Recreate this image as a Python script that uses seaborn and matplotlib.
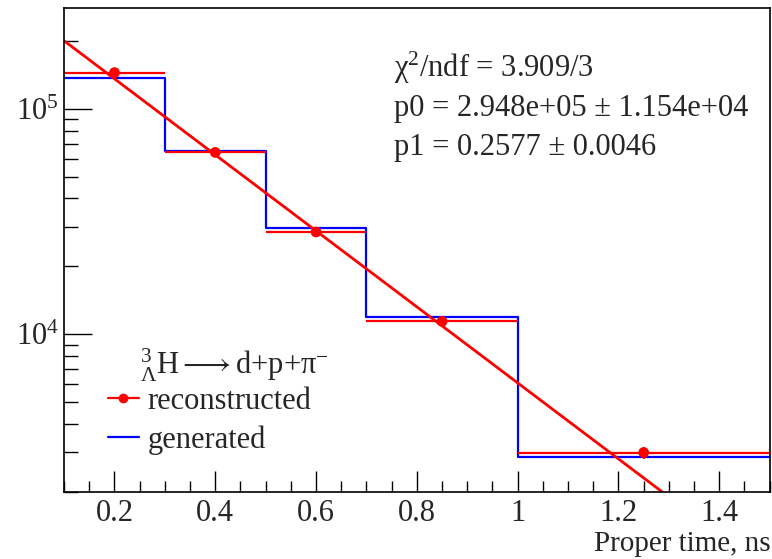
import matplotlib
matplotlib.use("Agg")
import matplotlib.pyplot as plt
import matplotlib.ticker as mticker
from matplotlib.lines import Line2D
import numpy as np
import pandas as pd
import seaborn as sns

# ---- data ----
bin_edges = [0.1, 0.3, 0.5, 0.7, 1.0, 1.5]
reco_x = [0.2, 0.4, 0.6, 0.85, 1.25]
reco_y = [1.445e5, 6.4e4, 2.84e4, 1.14e4, 2.99e3]
reco_yerr = [2.0e3, 1.2e3, 7.0e2, 3.5e2, 1.8e2]
gen_x = [0.2, 0.4, 0.6, 0.85, 1.25]
gen_y = [1.374e5, 6.5e4, 2.96e4, 1.19e4, 2.87e3]

# fit parameters shown in the stats box
p0 = 2.948e5
p1 = 0.2577

FS = 22

sns.set_theme(style="ticks")
plt.rcParams["font.family"] = ["Liberation Serif", "DejaVu Serif"]
plt.rcParams["mathtext.fontset"] = "custom"
plt.rcParams["mathtext.rm"] = "Liberation Serif"
plt.rcParams["mathtext.it"] = "Liberation Serif:italic"
plt.rcParams["mathtext.default"] = "rm"

fig = plt.figure(figsize=(7.72, 5.59), dpi=100)
ax = fig.add_axes([0.083, 0.12, 0.914, 0.866])

# generated: step histogram
gen = pd.DataFrame({"t": gen_x, "w": gen_y})
sns.histplot(data=gen, x="t", weights="w", bins=bin_edges, element="step",
             fill=False, color="#0000ff", linewidth=1.6, ax=ax)

# reconstructed: points with horizontal bin-width bars
half = [(b - a) / 2 for a, b in zip(bin_edges[:-1], bin_edges[1:])]
ax.errorbar(reco_x, reco_y, xerr=half, yerr=reco_yerr, fmt="none",
            ecolor="#ff0000", elinewidth=1.6, capsize=0)
sns.scatterplot(x=reco_x, y=reco_y, color="#ff0000", s=60, edgecolor="none",
                ax=ax, zorder=5)

# exponential fit
fit_x = np.linspace(0.1, 1.5, 200)
fit_y = p0 * np.exp(-fit_x / p1)
sns.lineplot(x=fit_x, y=fit_y, color="#ff0000", linewidth=2.0, ax=ax)

ax.set_yscale("log")
ax.set_xlim(0.1, 1.5)
ax.set_ylim(2000, 2.8e5)

ax.xaxis.set_major_locator(mticker.MultipleLocator(0.2))
ax.xaxis.set_minor_locator(mticker.MultipleLocator(0.05))
ax.xaxis.set_major_formatter(mticker.FuncFormatter(lambda v, p: f"{v:g}"))
ax.yaxis.set_major_locator(mticker.LogLocator(base=10))
ax.yaxis.set_major_formatter(mticker.FuncFormatter(
    lambda v, p: r"$10^{%d}$" % round(np.log10(v))))
ax.yaxis.set_minor_locator(mticker.LogLocator(base=10, subs=np.arange(2, 10)))
ax.yaxis.set_minor_formatter(mticker.NullFormatter())

ax.tick_params(axis="both", which="both", direction="in", top=False, right=False,
               labelsize=FS, color="black", width=1.0)
ax.tick_params(axis="y", which="major", length=20, pad=4)
ax.tick_params(axis="y", which="minor", length=10)
ax.tick_params(axis="x", which="major", length=15, pad=5)
ax.tick_params(axis="x", which="minor", length=8)
for sp in ax.spines.values():
    sp.set_color("black")
    sp.set_linewidth(1.2)

ax.set_ylabel("")
ax.set_xlabel("")
fig.text(0.998, 0.0135, "Proper time, ns", fontsize=21, ha="right",
         va="baseline")

# stats box text
stats = ["\u03c7$^{2}$/ndf = 3.909/3",
         "p0 = 2.948e+05 \u00b1 1.154e+04",
         "p1 = 0.2577 \u00b1 0.0046"]
for i, s in enumerate(stats):
    ax.text(0.468, 0.875 - i * 0.082, s, transform=ax.transAxes, fontsize=FS,
            va="center", ha="left")

# legend
ax.text(0.108, 0.262, r"$^{3}_{\Lambda}$H$\longrightarrow$d+p+$\pi^{-}$",
        transform=ax.transAxes, fontsize=FS, va="center", ha="left")
handles = [Line2D([], [], color="#ff0000", marker="o", markersize=6, linewidth=1.6),
           Line2D([], [], color="#0000ff", linewidth=1.6)]
ax.legend(handles, ["reconstructed", "generated"], loc="upper left",
          bbox_to_anchor=(0.045, 0.242), frameon=False, fontsize=FS,
          handlelength=1.0, handletextpad=0.3, labelspacing=0.3,
          borderaxespad=0)

fig.savefig("out.png", dpi=100)
